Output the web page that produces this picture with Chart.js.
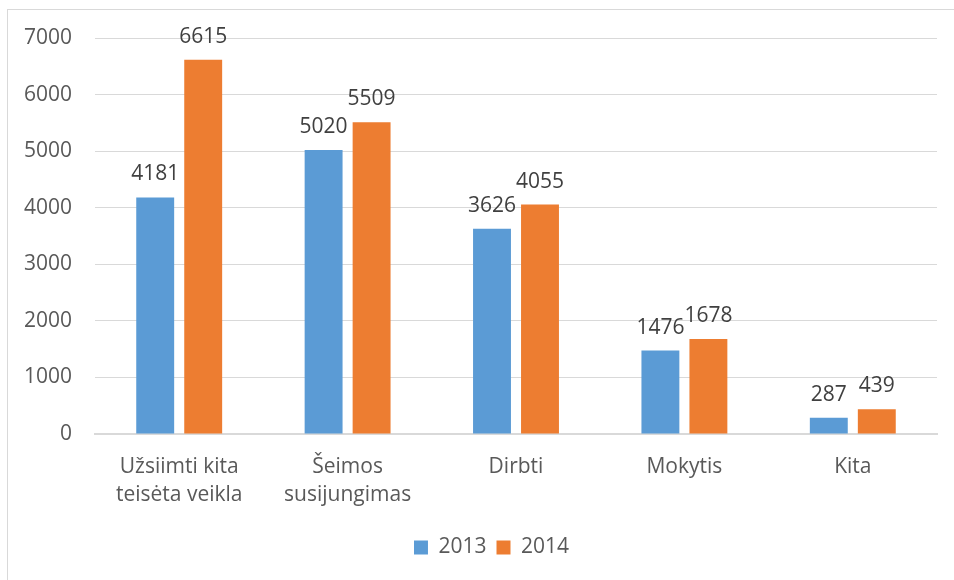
<!DOCTYPE html>
<html>
<head>
<meta charset="utf-8">
<script src="https://cdn.jsdelivr.net/npm/chart.js@4.4.1/dist/chart.umd.min.js"></script>
<style>
  html, body { margin: 0; padding: 0; background: #fff; }
  #wrap { position: relative; width: 954px; height: 580px; overflow: hidden; }
  #frame { position: absolute; left: 7px; top: 9px; width: 1000px; height: 600px; border: 1px solid #d9d9d9; }
  #chart { position: absolute; left: 0; top: 0; }
</style>
</head>
<body>
<div id="wrap">
  <div id="frame"></div>
  <canvas id="chart" width="954" height="580"></canvas>
</div>
<script>
"use strict";

const categories = [
  ["Užsiimti kita", "teisėta veikla"],
  ["Šeimos", "susijungimas"],
  "Dirbti",
  "Mokytis",
  "Kita"
];
const values2013 = [4181, 5020, 3626, 1476, 287];
const values2014 = [6615, 5509, 4055, 1678, 439];
const seriesNames = ["2013", "2014"];
const yTicks = [0, 1000, 2000, 3000, 4000, 5000, 6000, 7000];

const FONT = "'Open Sans', sans-serif";

// value labels above every bar
const barLabels = {
  id: "barLabels",
  afterDatasetsDraw(chart) {
    const ctx = chart.ctx;
    ctx.save();
    ctx.font = "21px " + FONT;
    ctx.fillStyle = "#404040";
    ctx.textAlign = "center";
    ctx.textBaseline = "alphabetic";
    chart.data.datasets.forEach(function (ds, i) {
      const meta = chart.getDatasetMeta(i);
      meta.data.forEach(function (bar, j) {
        ctx.fillText(String(ds.data[j]), bar.x, bar.y - 17);
      });
    });
    ctx.restore();
  }
};

// legend is centred on the frame, not on the canvas
const legendShift = {
  id: "legendShift",
  afterLayout(chart) {
    if (chart.legend) chart.legend.left = 46;
  }
};

new Chart(document.getElementById("chart"), {
  type: "bar",
  data: {
    labels: categories,
    datasets: [
      { label: seriesNames[0], data: values2013, backgroundColor: "#5B9BD5" },
      { label: seriesNames[1], data: values2014, backgroundColor: "#ED7D31" }
    ]
  },
  options: {
    responsive: false,
    animation: false,
    layout: { padding: { top: 38, right: 17, bottom: 12, left: 0 } },
    datasets: { bar: { barPercentage: 0.79, categoryPercentage: 0.57 } },
    plugins: {
      legend: {
        position: "bottom",
        labels: {
          font: { family: FONT, size: 21 },
          color: "#595959",
          boxWidth: 14,
          boxHeight: 14,
          padding: 10
        }
      },
      tooltip: { enabled: false }
    },
    scales: {
      x: {
        grid: { display: false, drawTicks: false },
        border: { color: "#d9d9d9", width: 2 },
        ticks: {
          font: { family: FONT, size: 21, lineHeight: 1.33 },
          color: "#595959",
          padding: 19,
          maxRotation: 0,
          autoSkip: false
        },
        afterFit(scale) { scale.height = 93; }
      },
      y: {
        min: 0,
        max: 7000,
        afterBuildTicks(scale) { scale.ticks = yTicks.map(function (v) { return { value: v }; }); },
        grid: { color: "#d9d9d9", drawTicks: false },
        border: { display: false },
        ticks: {
          font: { family: FONT, size: 21 },
          color: "#595959",
          padding: 23,
          callback(v) { return String(v); }
        },
        afterFit(scale) { scale.width = 95; }
      }
    }
  },
  plugins: [barLabels, legendShift]
});
</script>
</body>
</html>
